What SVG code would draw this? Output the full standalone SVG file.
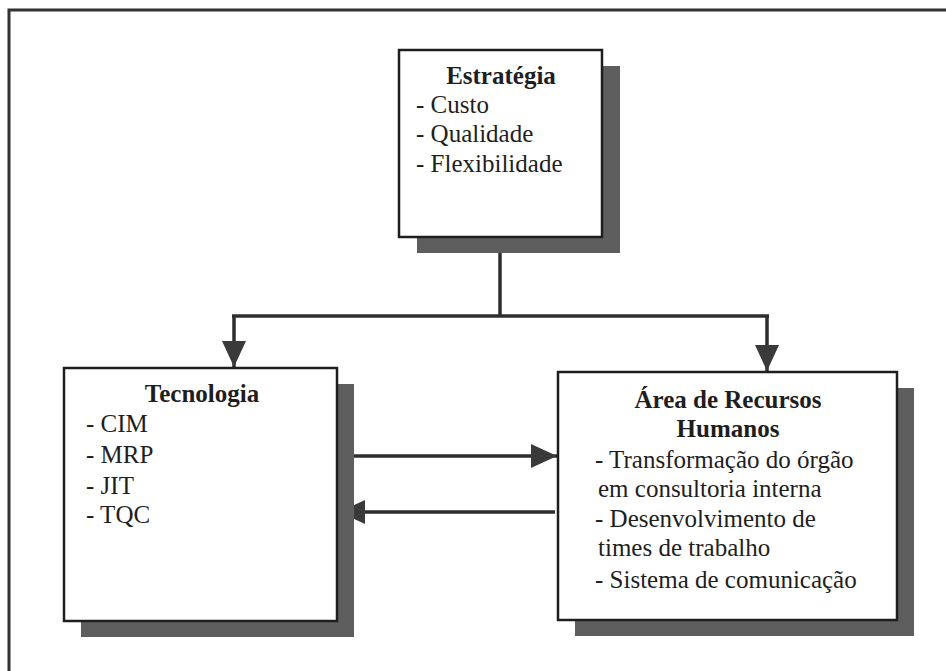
<svg xmlns="http://www.w3.org/2000/svg" width="946" height="671" viewBox="0 0 946 671">
<style>
.frame{fill:none;stroke:#333;stroke-width:3}
.box{fill:#fff;stroke:#1e1e1e;stroke-width:2.5}
.shadow{fill:#5e5e5e}
.t{font-family:"Liberation Serif","Times New Roman",serif;font-size:25px;fill:#1e1e1e}
.b{font-weight:bold}
.c{text-anchor:middle}
.conn{fill:none;stroke:#2e2e2e;stroke-width:3.5}
</style>
<defs>
<marker id="ah" markerUnits="userSpaceOnUse" markerWidth="26" markerHeight="24" refX="26" refY="12" orient="auto">
<path d="M0,0 L26,12 L0,24 z" fill="#3a3a3a"/>
</marker>
</defs>
<rect width="946" height="671" fill="#fff"/>
<path class="frame" d="M9,671 V10 H946"/>
<g id="connectors">
<path class="conn" d="M500,237 V316"/>
<path class="conn" d="M232,316 H769"/>
<path class="conn" d="M234,316 V367" marker-end="url(#ah)"/>
<path class="conn" d="M767,316 V371" marker-end="url(#ah)"/>
<path class="conn" d="M338,456 H557" marker-end="url(#ah)"/>
<path class="conn" d="M555,512 H339" marker-end="url(#ah)"/>
</g>
<g id="estrategia">
<rect class="shadow" x="417" y="66" width="203" height="187"/>
<rect class="box" x="399" y="50" width="203" height="187"/>
<text class="t b c" x="501" y="84">Estratégia</text>
<text class="t" x="416" y="113">- Custo</text>
<text class="t" x="416" y="142">- Qualidade</text>
<text class="t" x="416" y="172">- Flexibilidade</text>
</g>
<g id="tecnologia">
<rect class="shadow" x="81" y="384" width="273" height="253"/>
<rect class="box" x="64" y="368" width="273" height="253"/>
<text class="t b c" x="202" y="402">Tecnologia</text>
<text class="t" x="86" y="432">- CIM</text>
<text class="t" x="86" y="463">- MRP</text>
<text class="t" x="86" y="494">- JIT</text>
<text class="t" x="86" y="523">- TQC</text>
</g>
<g id="recursos-humanos">
<rect class="shadow" x="575" y="388" width="339" height="248"/>
<rect class="box" x="558" y="372" width="339" height="248"/>
<text class="t b c" x="728" y="408">Área de Recursos</text>
<text class="t b c" x="728" y="437">Humanos</text>
<text class="t" x="595" y="468">- Transformação do órgão</text>
<text class="t" x="598" y="497">em consultoria interna</text>
<text class="t" x="595" y="527">- Desenvolvimento de</text>
<text class="t" x="598" y="556">times de trabalho</text>
<text class="t" x="595" y="588">- Sistema de comunicação</text>
</g>
</svg>
